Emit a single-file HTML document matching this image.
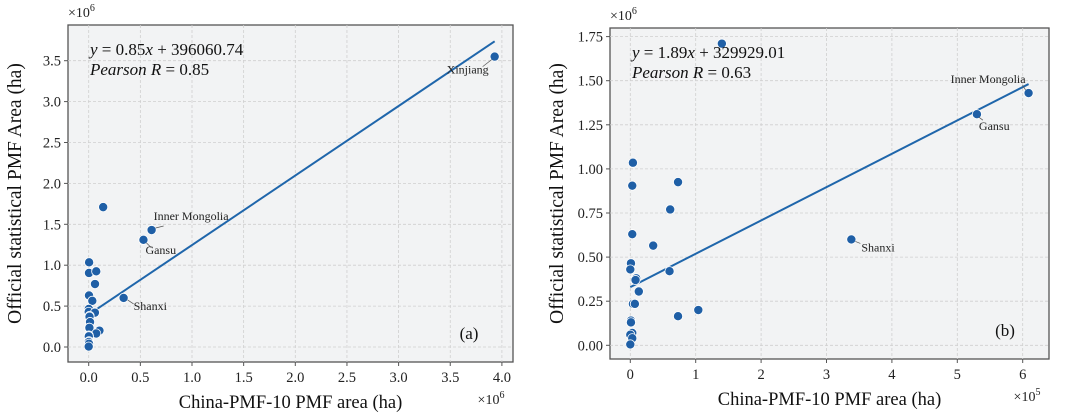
<!DOCTYPE html>
<html><head><meta charset="utf-8"><style>
body{margin:0;background:#fff;}
svg{display:block;font-family:"Liberation Serif",serif;}
</style></head><body>
<svg id="chart" width="1066" height="413" viewBox="0 0 1066 413"></svg>
<script>
// data (panel b units: x in 1e5 ha, y in 1e6 ha)
const xVals = [1.40,6.09,5.30,0.04,0.03,0.73,0.61,0.03,0.35,3.38,0.01,0.00,0.60,0.09,0.08,0.13,0.04,0.07,1.04,0.73,0.01,0.01,0.03,0.00,0.03,0.00];
const yVals = [1.71,1.43,1.31,1.035,0.905,0.925,0.77,0.63,0.565,0.60,0.465,0.43,0.42,0.38,0.37,0.305,0.235,0.235,0.20,0.165,0.14,0.13,0.07,0.06,0.04,0.005];
const xinjiang = [39.3, 3.55];
const fitA = [0.85, 396060.74];
const fitB = [1.89, 329929.01];
const ticksAx = ["0.0","0.5","1.0","1.5","2.0","2.5","3.0","3.5","4.0"];
const ticksAy = ["0.0","0.5","1.0","1.5","2.0","2.5","3.0","3.5"];
const ticksBx = ["0","1","2","3","4","5","6"];
const ticksBy = ["0.00","0.25","0.50","0.75","1.00","1.25","1.50","1.75"];
const labels = {1:"Inner Mongolia",2:"Gansu",9:"Shanxi"};

const svg = document.getElementById('chart');
const NS = "http://www.w3.org/2000/svg";
function mk(tag, attrs, parent){const e=document.createElementNS(NS,tag);for(const k in attrs)e.setAttribute(k,attrs[k]);(parent||svg).appendChild(e);return e;}
function txt(s,attrs,parent){const e=mk('text',attrs,parent);e.textContent=s;return e;}

function panel(p){
  const g = mk('g',{});
  
  
  const bg = mk('rect',{x:p.L,y:p.T,width:p.R-p.L,height:p.B-p.T,fill:'#f2f3f4',stroke:'#555','stroke-width':1.3},g);
  
  
  const sx = v => p.x0 + v*p.kx, sy = v => p.y0 - v*p.ky;
  p.tx.forEach((t,i)=>{
    const v=i*p.dx, X=sx(v);
    mk('line',{x1:X,x2:X,y1:p.T,y2:p.B,stroke:'#cfcfcf','stroke-dasharray':'3,2','stroke-width':0.8},g);
    mk('line',{x1:X,x2:X,y1:p.B,y2:p.B+4,stroke:'#555'},g);
    const e=txt(t,{x:X,y:p.B+20,'font-size':14.5,'text-anchor':'middle',fill:'#222'},g);
    
    
  });
  p.ty.forEach((t,i)=>{
    const v=i*p.dy, Y=sy(v);
    mk('line',{x1:p.L,x2:p.R,y1:Y,y2:Y,stroke:'#cfcfcf','stroke-dasharray':'3,2','stroke-width':0.8},g);
    mk('line',{x1:p.L-4,x2:p.L,y1:Y,y2:Y,stroke:'#555'},g);
    const e=txt(t,{x:p.L-7,y:Y+5,'font-size':14.5,'text-anchor':'end',fill:'#222'},g);
    
    
  });
  const x2=p.fitX2, fl=mk('line',{x1:sx(0),y1:sy(p.fit[1]/p.yu),x2:sx(x2),y2:sy((p.fit[0]*x2*p.xu+p.fit[1])/p.yu),stroke:'#1f66ab','stroke-width':2},g);
  
  
  p.pts.forEach((pt,i)=>{
    const c=mk('circle',{cx:sx(pt[0]),cy:sy(pt[1]),r:4.6,fill:'#1f5fa6',stroke:'#fff','stroke-width':0.8},g);
    
    
  });
  p.ann.forEach(a=>{
    const px=sx(a.pt[0]),py=sy(a.pt[1]);
    mk('line',{x1:px+a.lx1,y1:py+a.ly1,x2:px+a.lx2,y2:py+a.ly2,stroke:'#555','stroke-width':0.7},g);
    const e=txt(a.t,{x:px+a.dx,y:py+a.dy,'font-size':12,fill:'#222','text-anchor':a.anchor||'start'},g);
    
    
  });
  const eq=txt('',{x:p.L+22,y:p.T+30,'font-size':17,fill:'#111'},g);
  eq.innerHTML='<tspan font-style="italic">y</tspan> = '+p.eq+'<tspan font-style="italic">x</tspan> + '+p.eqb;
  
  
  const pr=txt('',{x:p.L+22,y:p.T+50,'font-size':17,fill:'#111'},g);
  pr.innerHTML='<tspan font-style="italic">Pearson R</tspan> = '+p.r;
  
  
  const pl=txt(p.tag,{x:p.R-44,y:p.B-23,'font-size':17,fill:'#111','text-anchor':'middle'},g);
  
  
  const xt=txt('China-PMF-10 PMF area (ha)',{x:(p.L+p.R)/2,y:p.B+46,'font-size':18.5,'text-anchor':'middle',fill:'#111'},g);
  
  
  const yt=txt('Official statistical PMF Area (ha)',{x:0,y:0,'font-size':19.5,'text-anchor':'middle',fill:'#111',transform:`translate(${p.L-47},${(p.T+p.B)/2}) rotate(-90)`},g);
  
  
  const ym=txt('',{x:p.L,y:p.T-8,'font-size':14,fill:'#222'},g);
  ym.innerHTML='×10<tspan dy="-6" font-size="10">6</tspan>';
  
  
  const xm=txt('',{x:p.R-22,y:p.B+42,'font-size':14,fill:'#222','text-anchor':'middle'},g);
  xm.innerHTML='×10<tspan dy="-6" font-size="10">'+p.xexp+'</tspan>';
  
  
}

const ptsA = xVals.map((x,i)=>[x/10,yVals[i]]).concat([[xinjiang[0]/10,xinjiang[1]]]);
const ptsB = xVals.map((x,i)=>[x,yVals[i]]);
panel({name:'panel-a',L:68,T:25,R:513,B:362,x0:88.7,kx:103.3,y0:347,ky:81.8,dx:0.5,dy:0.5,
  tx:ticksAx,ty:ticksAy,pts:ptsA,fit:fitA,xu:1e6,yu:1e6,fitX2:ptsA[ptsA.length-1][0],
  eq:'0.85',eqb:'396060.74',r:'0.85',tag:'(a)',xexp:'6',
  ann:[{pt:ptsA[1],t:labels[1],dx:2,dy:-10,lx1:4,ly1:-2,lx2:12,ly2:-4},
       {pt:ptsA[2],t:labels[2],dx:2,dy:14,lx1:3,ly1:3,lx2:8,ly2:8},
       {pt:ptsA[9],t:labels[9],dx:10,dy:12,lx1:4,ly1:2,lx2:10,ly2:6},
       {pt:ptsA[ptsA.length-1],t:'Xinjiang',dx:-6,dy:17,anchor:'end',lx1:-3,ly1:3,lx2:-12,ly2:10}]});
panel({name:'panel-b',L:610,T:28,R:1049,B:359,x0:630.3,kx:65.4,y0:345.3,ky:176.4,dx:1,dy:0.25,
  tx:ticksBx,ty:ticksBy,pts:ptsB,fit:fitB,xu:1e5,yu:1e6,fitX2:ptsB[1][0],
  eq:'1.89',eqb:'329929.01',r:'0.63',tag:'(b)',xexp:'5',
  ann:[{pt:ptsB[1],t:labels[1],dx:-3,dy:-10,anchor:'end',lx1:-3,ly1:-3,lx2:-6,ly2:-8},
       {pt:ptsB[2],t:labels[2],dx:2,dy:16,lx1:2,ly1:3,lx2:6,ly2:6},
       {pt:ptsB[9],t:labels[9],dx:10,dy:12,lx1:4,ly1:2,lx2:9,ly2:4}]});
</script>
</body></html>
